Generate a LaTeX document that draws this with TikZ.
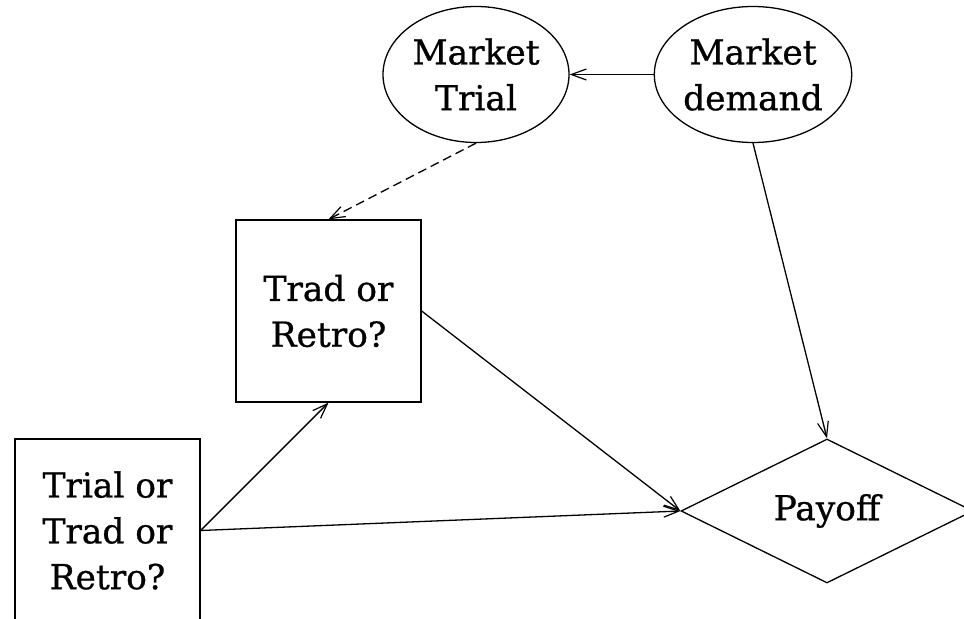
\documentclass[tikz,border=0pt]{standalone}
\usepackage{fontspec}
\setmainfont[FakeBold=0.8]{DejaVu Serif}
\usetikzlibrary{shapes.geometric,arrows.meta}
\tikzset{
  every node/.style={font=\fontsize{34.5}{46}\selectfont, align=center, inner sep=0pt, draw, line width=1.3bp},
  oval/.style={ellipse, minimum width=186bp, minimum height=136bp},
  boxnode/.style={rectangle, minimum width=185bp, minimum height=182bp},
  payoffnode/.style={diamond, aspect=2, minimum width=292bp, minimum height=144bp},
  conn/.style={line width=1.3bp, -{Straight Barb[length=15bp, width=11bp, line width=1.2bp]}},
  dashconn/.style={conn, dash pattern=on 9bp off 5bp}
}
\begin{document}
\begin{tikzpicture}[x=1bp, y=-1bp]
\useasboundingbox (0,0) rectangle (964,619);
\clip (0,0) rectangle (964,619);
\node[oval] (mt) at (476,74.5) {Market\\Trial};
\node[oval] (md) at (753,74.5) {Market\\demand};
\node[boxnode] (trad) at (328.5,311) {Trad or\\Retro?};
\node[boxnode, minimum height=183bp] (trial) at (107.5,530.5) {Trial or\\Trad or\\Retro?};
\node[payoffnode] (pay) at (827,511) {Payoff};
\draw[conn] (md.west) -- (mt.east);
\draw[dashconn] (mt.south) -- (trad.north);
\draw[conn] (md.south) -- (pay.north);
\draw[conn] (trad.east) -- (pay.west);
\draw[conn] (trial.east) -- (trad.south);
\draw[conn] (trial.east) -- (pay.west);
\end{tikzpicture}
\end{document}
